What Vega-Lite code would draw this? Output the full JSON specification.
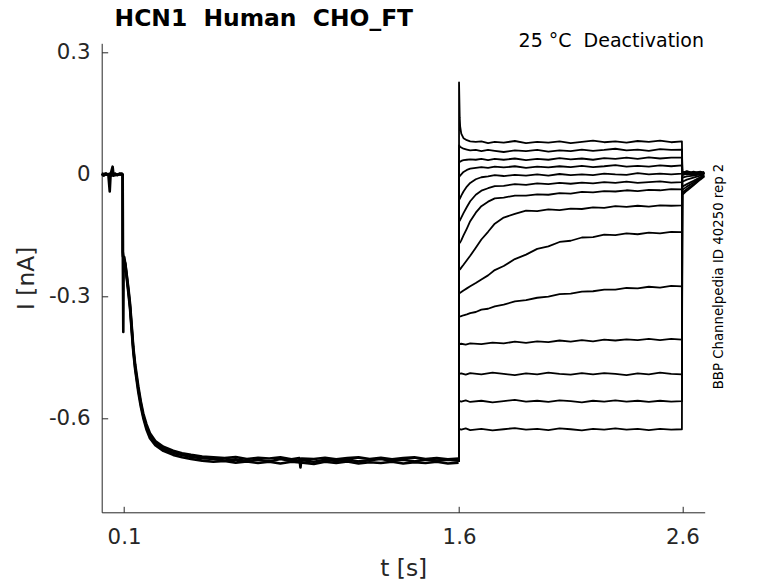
{
  "$schema": "https://vega.github.io/schema/vega-lite/v6.json",
  "width": 603,
  "height": 469,
  "autosize": {"type": "none"},
  "padding": {"left": 101.7, "top": 43.3, "right": 73.3, "bottom": 70.7},
  "background": "white",
  "config": {"view": {"stroke": null}, "font": "DejaVu Sans"},
  "data": {
    "values": "s,t,i\np1,0,0.001\np1,0.01,-0.003\np1,0.02,0.002\np1,0.03,-0.002\np1,0.036,-0.042\np1,0.04,0.001\np1,0.049,0.019\np1,0.053,-0.003\np1,0.06,0.002\np1,0.07,-0.002\np1,0.08,0.002\np1,0.094,-0.001\np1,0.0945,-0.195\np1,0.0967,-0.387\np1,0.0985,-0.208\np1,0.101,-0.203\np1,0.106,-0.222\np1,0.112,-0.25\np1,0.12,-0.288\np1,0.127,-0.325\np1,0.135,-0.383\np1,0.1415,-0.43\np1,0.15,-0.474\np1,0.164,-0.528\np1,0.175,-0.563\np1,0.186,-0.593\np1,0.2,-0.62\np1,0.216,-0.642\np1,0.24,-0.66\np1,0.276,-0.674\np1,0.32,-0.684\np1,0.36,-0.689\np1,0.4,-0.694\np1,0.45,-0.697\np1,0.5,-0.699\np1,0.55,-0.703\np1,0.6,-0.7\np1,0.65,-0.704\np1,0.7,-0.701\np1,0.75,-0.705\np1,0.8,-0.699\np1,0.85,-0.704\np1,0.9,-0.702\np1,0.95,-0.706\np1,1.0,-0.701\np1,1.05,-0.704\np1,1.1,-0.7\np1,1.15,-0.705\np1,1.2,-0.702\np1,1.25,-0.699\np1,1.3,-0.704\np1,1.35,-0.701\np1,1.4,-0.705\np1,1.45,-0.7\np1,1.5,-0.703\np1,1.55,-0.701\np1,1.598,-0.703\np2,0,-0.002\np2,0.015,0.002\np2,0.03,0\np2,0.045,-0.003\np2,0.06,0.001\np2,0.075,-0.001\np2,0.09,0.002\np2,0.094,0\np2,0.0945,-0.2\np2,0.1,-0.21\np2,0.106,-0.219\np2,0.112,-0.246\np2,0.12,-0.282\np2,0.127,-0.318\np2,0.135,-0.376\np2,0.1415,-0.424\np2,0.15,-0.467\np2,0.164,-0.521\np2,0.175,-0.557\np2,0.186,-0.587\np2,0.2,-0.613\np2,0.216,-0.636\np2,0.24,-0.655\np2,0.276,-0.669\np2,0.32,-0.679\np2,0.36,-0.685\np2,0.4,-0.689\np2,0.45,-0.693\np2,0.5,-0.695\np2,0.55,-0.697\np2,0.6,-0.694\np2,0.65,-0.699\np2,0.7,-0.696\np2,0.75,-0.698\np2,0.8,-0.695\np2,0.85,-0.7\np2,0.885,-0.697\np2,0.89,-0.72\np2,0.895,-0.698\np2,0.95,-0.699\np2,1.0,-0.696\np2,1.05,-0.7\np2,1.1,-0.697\np2,1.15,-0.695\np2,1.2,-0.699\np2,1.25,-0.696\np2,1.3,-0.7\np2,1.35,-0.697\np2,1.4,-0.695\np2,1.45,-0.699\np2,1.5,-0.697\np2,1.55,-0.7\np2,1.598,-0.698\np3,0,0.002\np3,0.02,-0.001\np3,0.04,0.002\np3,0.06,-0.002\np3,0.08,0.001\np3,0.094,-0.002\np3,0.0945,-0.19\np3,0.1,-0.212\np3,0.106,-0.226\np3,0.112,-0.255\np3,0.12,-0.294\np3,0.127,-0.331\np3,0.135,-0.39\np3,0.1415,-0.436\np3,0.15,-0.48\np3,0.164,-0.535\np3,0.175,-0.57\np3,0.186,-0.598\np3,0.2,-0.626\np3,0.216,-0.648\np3,0.24,-0.665\np3,0.276,-0.679\np3,0.32,-0.689\np3,0.36,-0.695\np3,0.4,-0.699\np3,0.45,-0.703\np3,0.5,-0.706\np3,0.55,-0.704\np3,0.6,-0.708\np3,0.65,-0.705\np3,0.7,-0.709\np3,0.75,-0.706\np3,0.8,-0.71\np3,0.85,-0.706\np3,0.9,-0.708\np3,0.95,-0.711\np3,1.0,-0.706\np3,1.05,-0.709\np3,1.1,-0.705\np3,1.15,-0.71\np3,1.2,-0.707\np3,1.25,-0.709\np3,1.3,-0.706\np3,1.35,-0.71\np3,1.4,-0.707\np3,1.45,-0.709\np3,1.5,-0.706\np3,1.55,-0.71\np3,1.598,-0.708\nT1,1.6,-0.705\nT1,1.6,0.226\nT1,1.603,0.14\nT1,1.605,0.118\nT1,1.61,0.1\nT1,1.62,0.089\nT1,1.635,0.084\nT1,1.65,0.081\nT1,1.675,0.08\nT1,1.7,0.081\nT1,1.73,0.077\nT1,1.76,0.08\nT1,1.8,0.078\nT1,1.85,0.082\nT1,1.9,0.077\nT1,1.95,0.08\nT1,2.0,0.078\nT1,2.05,0.081\nT1,2.1,0.077\nT1,2.15,0.08\nT1,2.2,0.083\nT1,2.25,0.079\nT1,2.3,0.081\nT1,2.35,0.078\nT1,2.4,0.082\nT1,2.45,0.08\nT1,2.5,0.083\nT1,2.55,0.079\nT1,2.598,0.081\nT1,2.6,0.004\nT1,2.62,0.008\nT1,2.65,0.003\nT1,2.68,0.007\nT1,2.698,0.004\nT2,1.6,-0.705\nT2,1.6,0.071\nT2,1.605,0.068\nT2,1.61,0.066\nT2,1.62,0.063\nT2,1.635,0.061\nT2,1.65,0.059\nT2,1.675,0.06\nT2,1.7,0.057\nT2,1.73,0.06\nT2,1.76,0.058\nT2,1.8,0.055\nT2,1.85,0.059\nT2,1.9,0.057\nT2,1.95,0.06\nT2,2.0,0.056\nT2,2.05,0.059\nT2,2.1,0.057\nT2,2.15,0.061\nT2,2.2,0.058\nT2,2.25,0.06\nT2,2.3,0.063\nT2,2.35,0.059\nT2,2.4,0.061\nT2,2.45,0.058\nT2,2.5,0.062\nT2,2.55,0.06\nT2,2.598,0.061\nT2,2.6,0.006\nT2,2.62,0.002\nT2,2.65,0.007\nT2,2.68,0.003\nT2,2.698,0.006\nT3,1.6,-0.705\nT3,1.6,0.03\nT3,1.605,0.031\nT3,1.61,0.033\nT3,1.62,0.035\nT3,1.635,0.036\nT3,1.65,0.037\nT3,1.675,0.036\nT3,1.7,0.038\nT3,1.73,0.035\nT3,1.76,0.038\nT3,1.8,0.036\nT3,1.85,0.039\nT3,1.9,0.035\nT3,1.95,0.038\nT3,2.0,0.036\nT3,2.05,0.04\nT3,2.1,0.037\nT3,2.15,0.039\nT3,2.2,0.036\nT3,2.25,0.04\nT3,2.3,0.038\nT3,2.35,0.041\nT3,2.4,0.038\nT3,2.45,0.042\nT3,2.5,0.039\nT3,2.55,0.041\nT3,2.598,0.041\nT3,2.6,0.002\nT3,2.62,0.006\nT3,2.65,0.001\nT3,2.68,0.005\nT3,2.698,0.002\nT4,1.6,-0.705\nT4,1.6,-0.007\nT4,1.605,-0.003\nT4,1.61,0\nT4,1.62,0.006\nT4,1.635,0.011\nT4,1.65,0.014\nT4,1.675,0.016\nT4,1.7,0.018\nT4,1.73,0.016\nT4,1.76,0.019\nT4,1.8,0.017\nT4,1.85,0.02\nT4,1.9,0.016\nT4,1.95,0.019\nT4,2.0,0.017\nT4,2.05,0.02\nT4,2.1,0.018\nT4,2.15,0.021\nT4,2.2,0.018\nT4,2.25,0.02\nT4,2.3,0.023\nT4,2.35,0.019\nT4,2.4,0.021\nT4,2.45,0.019\nT4,2.5,0.022\nT4,2.55,0.02\nT4,2.598,0.022\nT4,2.6,0.005\nT4,2.62,0.001\nT4,2.65,0.005\nT4,2.68,0\nT4,2.698,0.003\nT5,1.6,-0.705\nT5,1.6,-0.063\nT5,1.605,-0.058\nT5,1.61,-0.052\nT5,1.62,-0.042\nT5,1.635,-0.03\nT5,1.65,-0.021\nT5,1.675,-0.012\nT5,1.7,-0.007\nT5,1.73,-0.005\nT5,1.76,-0.002\nT5,1.8,-0.004\nT5,1.85,-0.001\nT5,1.9,-0.003\nT5,1.95,0\nT5,2.0,-0.003\nT5,2.05,0.001\nT5,2.1,-0.002\nT5,2.15,0\nT5,2.2,-0.002\nT5,2.25,0.002\nT5,2.3,0\nT5,2.35,-0.001\nT5,2.4,0.003\nT5,2.45,0\nT5,2.5,0.002\nT5,2.55,0\nT5,2.598,0.002\nT5,2.6,0.003\nT5,2.62,0.007\nT5,2.65,0.002\nT5,2.68,0.006\nT5,2.698,0.002\nT6,1.6,-0.705\nT6,1.6,-0.116\nT6,1.605,-0.112\nT6,1.61,-0.106\nT6,1.62,-0.095\nT6,1.635,-0.08\nT6,1.65,-0.066\nT6,1.675,-0.05\nT6,1.7,-0.04\nT6,1.73,-0.034\nT6,1.76,-0.029\nT6,1.8,-0.028\nT6,1.85,-0.024\nT6,1.9,-0.026\nT6,1.95,-0.022\nT6,2.0,-0.024\nT6,2.05,-0.021\nT6,2.1,-0.023\nT6,2.15,-0.02\nT6,2.2,-0.022\nT6,2.25,-0.019\nT6,2.3,-0.021\nT6,2.35,-0.018\nT6,2.4,-0.021\nT6,2.45,-0.019\nT6,2.5,-0.017\nT6,2.55,-0.02\nT6,2.598,-0.019\nT6,2.6,0.001\nT6,2.62,0.005\nT6,2.65,0\nT6,2.68,0.004\nT6,2.698,0.001\nT7,1.6,-0.705\nT7,1.6,-0.17\nT7,1.605,-0.167\nT7,1.61,-0.162\nT7,1.62,-0.15\nT7,1.635,-0.133\nT7,1.65,-0.115\nT7,1.675,-0.094\nT7,1.7,-0.078\nT7,1.73,-0.067\nT7,1.76,-0.059\nT7,1.8,-0.057\nT7,1.85,-0.052\nT7,1.9,-0.052\nT7,1.95,-0.049\nT7,2.0,-0.05\nT7,2.05,-0.046\nT7,2.1,-0.047\nT7,2.15,-0.043\nT7,2.2,-0.044\nT7,2.25,-0.041\nT7,2.3,-0.042\nT7,2.35,-0.039\nT7,2.4,-0.041\nT7,2.45,-0.038\nT7,2.5,-0.039\nT7,2.55,-0.036\nT7,2.598,-0.037\nT7,2.6,0.004\nT7,2.62,0\nT7,2.65,0.004\nT7,2.68,0.001\nT7,2.698,0.004\nT8,1.6,-0.705\nT8,1.6,-0.235\nT8,1.605,-0.233\nT8,1.61,-0.229\nT8,1.62,-0.222\nT8,1.635,-0.211\nT8,1.65,-0.2\nT8,1.675,-0.18\nT8,1.7,-0.16\nT8,1.73,-0.141\nT8,1.76,-0.121\nT8,1.8,-0.106\nT8,1.85,-0.097\nT8,1.9,-0.089\nT8,1.95,-0.09\nT8,2.0,-0.086\nT8,2.05,-0.088\nT8,2.1,-0.084\nT8,2.15,-0.085\nT8,2.2,-0.081\nT8,2.25,-0.082\nT8,2.3,-0.078\nT8,2.35,-0.08\nT8,2.4,-0.077\nT8,2.45,-0.079\nT8,2.5,-0.076\nT8,2.55,-0.077\nT8,2.598,-0.076\nT8,2.6,-0.002\nT8,2.62,0.002\nT8,2.65,-0.001\nT8,2.68,0.003\nT8,2.698,0.001\nT9,1.6,-0.705\nT9,1.6,-0.292\nT9,1.605,-0.291\nT9,1.61,-0.289\nT9,1.62,-0.285\nT9,1.635,-0.28\nT9,1.65,-0.275\nT9,1.675,-0.267\nT9,1.7,-0.258\nT9,1.73,-0.248\nT9,1.76,-0.235\nT9,1.8,-0.225\nT9,1.85,-0.208\nT9,1.9,-0.197\nT9,1.95,-0.183\nT9,2.0,-0.177\nT9,2.05,-0.166\nT9,2.1,-0.163\nT9,2.15,-0.155\nT9,2.2,-0.154\nT9,2.25,-0.148\nT9,2.3,-0.149\nT9,2.35,-0.145\nT9,2.4,-0.147\nT9,2.45,-0.143\nT9,2.5,-0.145\nT9,2.55,-0.141\nT9,2.598,-0.142\nT9,2.6,-0.008\nT9,2.62,-0.005\nT9,2.65,-0.003\nT9,2.68,0\nT9,2.698,0.002\nT10,1.6,-0.705\nT10,1.6,-0.35\nT10,1.605,-0.349\nT10,1.61,-0.348\nT10,1.62,-0.346\nT10,1.635,-0.344\nT10,1.65,-0.341\nT10,1.675,-0.338\nT10,1.7,-0.332\nT10,1.73,-0.33\nT10,1.76,-0.324\nT10,1.8,-0.32\nT10,1.85,-0.312\nT10,1.9,-0.309\nT10,1.95,-0.303\nT10,2.0,-0.3\nT10,2.05,-0.294\nT10,2.1,-0.293\nT10,2.15,-0.288\nT10,2.2,-0.287\nT10,2.25,-0.283\nT10,2.3,-0.283\nT10,2.35,-0.279\nT10,2.4,-0.28\nT10,2.45,-0.276\nT10,2.5,-0.278\nT10,2.55,-0.274\nT10,2.598,-0.275\nT10,2.6,-0.018\nT10,2.62,-0.013\nT10,2.65,-0.008\nT10,2.68,-0.003\nT10,2.698,0\nT11,1.6,-0.705\nT11,1.6,-0.417\nT11,1.61,-0.416\nT11,1.63,-0.418\nT11,1.65,-0.415\nT11,1.7,-0.417\nT11,1.75,-0.413\nT11,1.8,-0.415\nT11,1.85,-0.411\nT11,1.9,-0.414\nT11,1.95,-0.41\nT11,2.0,-0.412\nT11,2.05,-0.408\nT11,2.1,-0.411\nT11,2.15,-0.407\nT11,2.2,-0.41\nT11,2.25,-0.406\nT11,2.3,-0.408\nT11,2.35,-0.405\nT11,2.4,-0.407\nT11,2.45,-0.404\nT11,2.5,-0.407\nT11,2.55,-0.404\nT11,2.598,-0.406\nT11,2.6,-0.03\nT11,2.62,-0.024\nT11,2.65,-0.016\nT11,2.68,-0.007\nT11,2.698,-0.002\nT12,1.6,-0.705\nT12,1.6,-0.49\nT12,1.61,-0.489\nT12,1.63,-0.492\nT12,1.65,-0.488\nT12,1.7,-0.491\nT12,1.75,-0.487\nT12,1.8,-0.49\nT12,1.85,-0.493\nT12,1.9,-0.489\nT12,1.95,-0.491\nT12,2.0,-0.487\nT12,2.05,-0.49\nT12,2.1,-0.492\nT12,2.15,-0.488\nT12,2.2,-0.491\nT12,2.25,-0.488\nT12,2.3,-0.49\nT12,2.35,-0.493\nT12,2.4,-0.489\nT12,2.45,-0.491\nT12,2.5,-0.487\nT12,2.55,-0.49\nT12,2.598,-0.491\nT12,2.6,-0.038\nT12,2.62,-0.03\nT12,2.65,-0.02\nT12,2.68,-0.009\nT12,2.698,-0.003\nT13,1.6,-0.705\nT13,1.6,-0.556\nT13,1.61,-0.558\nT13,1.63,-0.555\nT13,1.65,-0.559\nT13,1.7,-0.556\nT13,1.75,-0.56\nT13,1.8,-0.557\nT13,1.85,-0.554\nT13,1.9,-0.558\nT13,1.95,-0.556\nT13,2.0,-0.559\nT13,2.05,-0.555\nT13,2.1,-0.557\nT13,2.15,-0.56\nT13,2.2,-0.556\nT13,2.25,-0.558\nT13,2.3,-0.555\nT13,2.35,-0.558\nT13,2.4,-0.556\nT13,2.45,-0.559\nT13,2.5,-0.556\nT13,2.55,-0.558\nT13,2.598,-0.557\nT13,2.6,-0.045\nT13,2.62,-0.036\nT13,2.65,-0.024\nT13,2.68,-0.011\nT13,2.698,-0.004\nT14,1.6,-0.705\nT14,1.6,-0.625\nT14,1.61,-0.627\nT14,1.63,-0.624\nT14,1.65,-0.628\nT14,1.7,-0.625\nT14,1.75,-0.629\nT14,1.8,-0.626\nT14,1.85,-0.623\nT14,1.9,-0.627\nT14,1.95,-0.625\nT14,2.0,-0.628\nT14,2.05,-0.624\nT14,2.1,-0.626\nT14,2.15,-0.629\nT14,2.2,-0.625\nT14,2.25,-0.627\nT14,2.3,-0.624\nT14,2.35,-0.627\nT14,2.4,-0.625\nT14,2.45,-0.628\nT14,2.5,-0.625\nT14,2.55,-0.627\nT14,2.598,-0.626\nT14,2.6,-0.05\nT14,2.62,-0.04\nT14,2.65,-0.027\nT14,2.68,-0.013\nT14,2.698,-0.005",
    "format": {"type": "csv", "parse": {"t": "number", "i": "number"}}
  },
  "encoding": {
    "x": {
      "field": "t", "type": "quantitative",
      "scale": {"domain": [0, 2.7], "nice": false, "zero": false},
      "axis": {
        "values": [0.1, 1.6, 2.6],
        "format": ".1f",
        "title": "t [s]",
        "grid": false,
        "tickSize": -6,
        "tickColor": "#262626",
        "domainColor": "#262626",
        "labelFont": "DejaVu Sans",
        "labelFontSize": 21.3,
        "labelColor": "#262626",
        "labelPadding": 20,
        "labelFlush": false,
        "labelOverlap": false,
        "titleFont": "DejaVu Sans",
        "titleFontSize": 23.4,
        "titleFontWeight": "normal",
        "titleColor": "#262626",
        "titlePadding": 10
      }
    },
    "y": {
      "field": "i", "type": "quantitative",
      "scale": {"domain": [-0.83, 0.322], "nice": false, "zero": false},
      "axis": {
        "values": [-0.6, -0.3, 0, 0.3],
        "labelExpr": "datum.value == 0 ? '0' : replace(format(datum.value, '.1f'), '\u2212', '-')",
        "title": "I [nA]",
        "grid": false,
        "tickSize": -6,
        "tickColor": "#262626",
        "domainColor": "#262626",
        "labelFont": "DejaVu Sans",
        "labelFontSize": 21.3,
        "labelColor": "#262626",
        "labelPadding": 17.7,
        "labelFlush": false,
        "labelOverlap": false,
        "titleFont": "DejaVu Sans",
        "titleFontSize": 23.4,
        "titleFontWeight": "normal",
        "titleColor": "#262626",
        "titlePadding": 10
      }
    }
  },
  "layer": [
    {
      "transform": [{"filter": "indexof(datum.s, 'p') == 0"}],
      "mark": {"type": "line", "color": "black", "strokeWidth": 2.6, "strokeJoin": "round"},
      "encoding": {
        "detail": {"field": "s", "type": "nominal"},
        "order": {"value": null}
      }
    },
    {
      "transform": [{"filter": "indexof(datum.s, 'T') == 0"}],
      "mark": {"type": "line", "color": "black", "strokeWidth": 1.8, "strokeJoin": "round"},
      "encoding": {
        "detail": {"field": "s", "type": "nominal"},
        "order": {"value": null}
      }
    },
    {
      "data": {"values": [{"label": "HCN1 \u00a0Human \u00a0CHO_FT", "t": 0.0578, "i": 0.3645}]},
      "mark": {"type": "text", "align": "left", "baseline": "alphabetic", "font": "DejaVu Sans", "fontSize": 23.4, "fontWeight": "bold", "color": "black"},
      "encoding": {"text": {"field": "label"}}
    },
    {
      "data": {"values": [{"label": "25 °C \u00a0Deactivation", "t": 2.697, "i": 0.3127}]},
      "mark": {"type": "text", "align": "right", "baseline": "alphabetic", "font": "DejaVu Sans", "fontSize": 19, "color": "black"},
      "encoding": {"text": {"field": "label"}}
    },
    {
      "data": {"values": [{"label": "BBP Channelpedia ID 40250 rep 2", "t": 2.765, "i": -0.2508}]},
      "mark": {"type": "text", "align": "center", "baseline": "middle", "angle": 270, "font": "DejaVu Sans", "fontSize": 13.3, "color": "black"},
      "encoding": {"text": {"field": "label"}}
    }
  ]
}
